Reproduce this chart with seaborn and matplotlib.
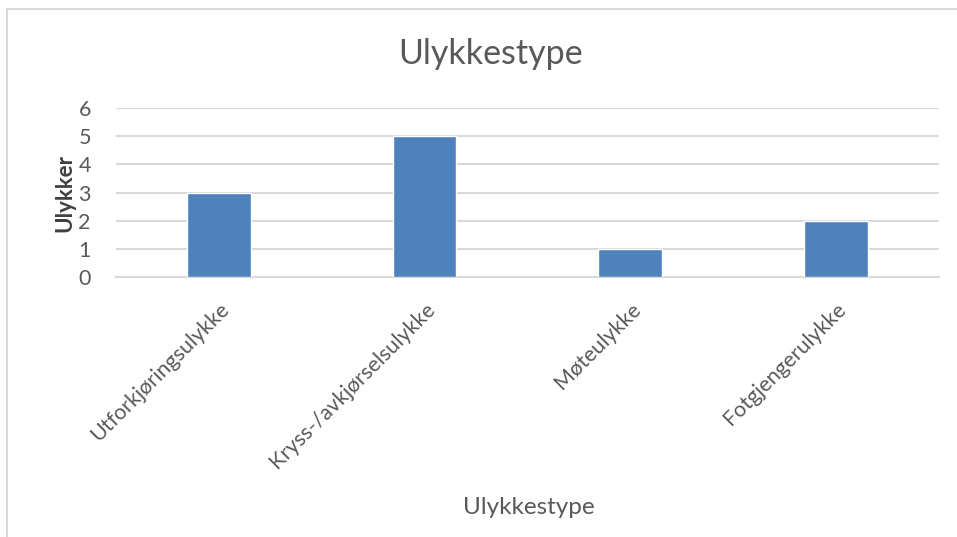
import seaborn as sns
import matplotlib.pyplot as plt
from matplotlib.lines import Line2D
import pandas as pd

categories = ['Utforkjøringsulykke', 'Kryss-/avkjørselsulykke', 'Møteulykke', 'Fotgjengerulykke']
ulykker = [3, 5, 1, 2]

df = pd.DataFrame({'Ulykkestype': categories, 'Ulykker': ulykker})

sns.set_theme(style='white')
plt.rcParams['font.family'] = ['Lato', 'DejaVu Sans']

fig = plt.figure(figsize=(9.57, 5.37), dpi=100)
ax = fig.add_axes([0.121, 0.484, 0.860, 0.315])

sns.barplot(data=df, x='Ulykkestype', y='Ulykker', color='#4F81BD',
            saturation=1, width=0.31, ax=ax, zorder=3)

ax.set_ylim(0, 6)
ax.set_yticks(range(0, 7))
ax.set_xlim(-0.5, len(categories) - 0.5)
ax.yaxis.grid(True, color='#D9D9D9', linewidth=1.5, zorder=0)
ax.set_axisbelow(True)
for s in ['top', 'right', 'left']:
    ax.spines[s].set_visible(False)
ax.spines['bottom'].set_color('#D9D9D9')
ax.spines['bottom'].set_linewidth(1.5)
ax.tick_params(axis='both', length=0, colors='#595959', labelsize=15.5)
ax.tick_params(axis='y', pad=18)
plt.setp(ax.get_xticklabels(), rotation=45, ha='right', rotation_mode='anchor')
ax.tick_params(axis='x', pad=16)

ax.set_ylabel('Ulykker', fontsize=16, fontweight='bold', color='#404040', labelpad=2)
ax.set_xlabel('Ulykkestype', fontsize=17.5, color='#595959')
ax.xaxis.set_label_coords(0.502, -1.3)
fig.text(0.513, 0.899, 'Ulykkestype', ha='center', va='center', fontsize=24.5, color='#595959')

# chart frame
fig.add_artist(Line2D([7 / 957, 7 / 957], [0, 1 - 9 / 537], color='#D9D9D9', linewidth=1.5))
fig.add_artist(Line2D([7 / 957, 1], [1 - 9 / 537, 1 - 9 / 537], color='#D9D9D9', linewidth=1.5))

fig.savefig('out.png', dpi=100)
